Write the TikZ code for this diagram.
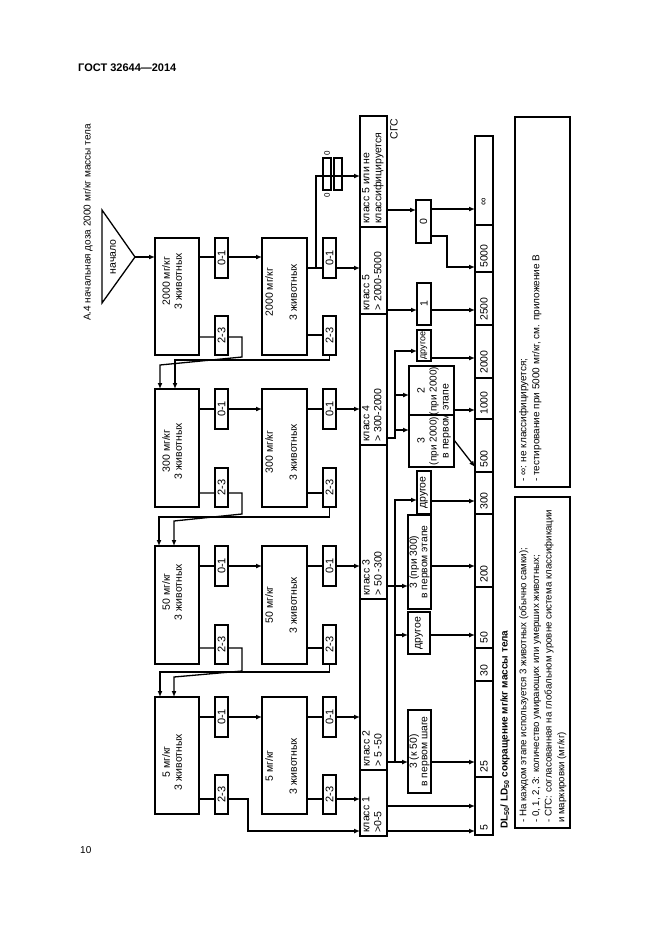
\documentclass[tikz,border=0pt]{standalone}
\usepackage{fontspec}
\setmainfont{Liberation Sans}
\usetikzlibrary{arrows.meta}
\pgfdeclarelayer{bg}
\pgfsetlayers{bg,main}
\newcommand\mybox[7][]{%
  \node[box, minimum width={(#5)-(#3)}, minimum height={(#6)-(#4)}] (#2) at ({((#3)+(#5))/2},{((#4)+(#6))/2}) {};
  \node[rot,#1] (#2-t) at (#2.center) {#7};}
\begin{document}
\begin{tikzpicture}[x=1pt,y=-1pt,
  box/.style={draw,line width=1.3pt,fill=white,inner sep=0pt,outer sep=0pt},
  ln/.style={line width=1.3pt},
  arr/.style={line width=1.3pt,-{Latex[length=6pt,width=5pt]}},
  rot/.style={rotate=90,inner sep=0pt,align=center,font=\fontsize{10.5}{12}\selectfont},
  f9/.style={font=\fontsize{9}{10}\selectfont},
  f11/.style={font=\fontsize{11}{12}\selectfont},
  two/.style={font=\fontsize{10.3}{10.5}\selectfont},
  lab/.style={rot,anchor=north west,align=left,font=\fontsize{10.5}{12}\selectfont},
  res/.style={rot,anchor=west,font=\fontsize{10.5}{12}\selectfont},
]
\useasboundingbox (0,0) rectangle (661,935);

% header, page number, title
\node[anchor=west,inner sep=0,font=\bfseries\fontsize{11}{13}\selectfont] (hdr) at (78,68) {ГОСТ 32644—2014};
\node[anchor=west,inner sep=0,font=\fontsize{10}{12}\selectfont] (pgno) at (80,850) {10};
\node[rot,anchor=west,font=\fontsize{10}{12}\selectfont] (title) at (88,321) {А.4 начальная доза 2000 мг/кг массы тела};

% start triangle
\draw[line width=1.3pt] (102,210) -- (135,257) -- (102,303) -- cycle;
\coordinate (apex) at (135,257);
\node[rot] (start) at (113,257) {начало};

% ---- row 1
\mybox{b11}{155}{238}{199}{355}{}
\mybox[f11]{s11}{215}{238}{228}{278}{0-1}
\mybox[f11]{s12}{215}{316}{228}{355}{2-3}
\mybox{b12}{262}{238}{307}{355}{}
\mybox[f11]{s13}{323}{238}{336}{278}{0-1}
\mybox[f11]{s14}{323}{316}{336}{355}{2-3}
\node[rot] (b11x) at (172,281) {2000 мг/кг\\3 животных};
\node[rot] (b12x) at (281,292) {2000 мг/кг\\[12pt]3 животных};
% ---- row 2
\mybox{b21}{155}{389}{199}{507}{}
\mybox[f11]{s21}{215}{389}{228}{429}{0-1}
\mybox[f11]{s22}{215}{468}{228}{507}{2-3}
\mybox{b22}{262}{389}{307}{507}{}
\mybox[f11]{s23}{323}{389}{336}{429}{0-1}
\mybox[f11]{s24}{323}{468}{336}{507}{2-3}
\node[rot] (b21x) at (172,451) {300 мг/кг\\3 животных};
\node[rot] (b22x) at (281,452) {300 мг/кг\\[12pt]3 животных};
% ---- row 3
\mybox{b31}{155}{546}{199}{664}{}
\mybox[f11]{s31}{215}{546}{228}{586}{0-1}
\mybox[f11]{s32}{215}{625}{228}{664}{2-3}
\mybox{b32}{262}{546}{307}{664}{}
\mybox[f11]{s33}{323}{546}{336}{586}{0-1}
\mybox[f11]{s34}{323}{625}{336}{664}{2-3}
\node[rot] (b31x) at (172,592) {50 мг/кг\\3 животных};
\node[rot] (b32x) at (281,605) {50 мг/кг\\[12pt]3 животных};
% ---- row 4
\mybox{b41}{155}{697}{199}{814}{}
\mybox[f11]{s41}{215}{697}{228}{737}{0-1}
\mybox[f11]{s42}{215}{775}{228}{814}{2-3}
\mybox{b42}{262}{697}{307}{814}{}
\mybox[f11]{s43}{323}{697}{336}{737}{0-1}
\mybox[f11]{s44}{323}{775}{336}{814}{2-3}
\node[rot] (b41x) at (172,762) {5 мг/кг\\3 животных};
\node[rot] (b42x) at (281,766) {5 мг/кг\\[12pt]3 животных};

% two "0" boxes on branch
\node[draw,line width=1.3pt,inner sep=0,minimum width=8,minimum height=32] (z01) at (327,174) {};
\node[draw,line width=1.3pt,inner sep=0,minimum width=8,minimum height=32] (z02) at (338,174) {};
\node[rot,font=\fontsize{8}{9}\selectfont] (z01a) at (327,153) {0};
\node[rot,font=\fontsize{8}{9}\selectfont] (z01b) at (327,195) {0};

% ---- class column
\mybox{c6}{360}{116}{387}{227}{}
\mybox{c5}{360}{227}{387}{314}{}
\mybox{c4}{360}{314}{387}{445}{}
\mybox{c3}{360}{445}{387}{599}{}
\mybox{c2}{360}{599}{387}{770}{}
\mybox{c1}{360}{770}{387}{836}{}
\draw[line width=1.8pt] (c6.north west) rectangle (c1.south east);
\node[lab] (c6l) at (362,224) {класс 5 или не\\классифицируется};
\node[lab] (c5l) at (362,311) {класс 5\\> 2000-5000};
\node[lab] (c4l) at (362,442) {класс 4\\> 300-2000};
\node[lab] (c3l) at (362,596) {класс 3\\> 50 -300};
\node[lab] (c2l) at (362,767) {класс 2\\> 5 -50};
\node[lab] (c1l) at (362,833) {класс 1\\>0-5};
\node[rot] (sgs) at (394,129) {СГС};

% ---- results column
\mybox{rinf}{475}{136}{493}{225}{}
\mybox{r5000}{475}{225}{493}{272}{}
\mybox{r2500}{475}{272}{493}{325}{}
\mybox{r2000}{475}{325}{493}{378}{}
\mybox{r1000}{475}{378}{493}{419}{}
\mybox{r500}{475}{419}{493}{472}{}
\mybox{r300}{475}{472}{493}{514}{}
\mybox{r200}{475}{514}{493}{587}{}
\mybox{r50}{475}{587}{493}{648}{}
\mybox{r30}{475}{648}{493}{681}{}
\mybox{r25}{475}{681}{493}{777}{}
\mybox{r5}{475}{777}{493}{835}{}
\draw[line width=1.8pt] (rinf.north west) rectangle (r5.south east);
\node[rot] (rinfl) at (484,202) {∞};
\node[res] (r5000l) at (484,268) {5000};
\node[res] (r2500l) at (484,321) {2500};
\node[res] (r2000l) at (484,374) {2000};
\node[res] (r1000l) at (484,415) {1000};
\node[res] (r500l) at (484,468) {500};
\node[res] (r300l) at (484,510) {300};
\node[res] (r200l) at (484,583) {200};
\node[res] (r50l) at (484,644) {50};
\node[res] (r30l) at (484,677) {30};
\node[res] (r25l) at (484,773) {25};
\node[res] (r5l) at (484,831) {5};

% ---- middle boxes
\mybox{z0}{416}{200}{431}{243}{0}
\mybox{one}{417}{283}{431}{325}{1}
\mybox[f9]{oth4}{417}{330}{431}{361}{другое}
\mybox{bx2}{409}{366}{454}{415}{}
\mybox{bx3}{409}{415}{454}{467}{}
\node[rot] (bx2a) at (421,391) {2};
\node[rot,font=\fontsize{10}{12}\selectfont] (bx2b) at (434,391) {(при 2000)};
\node[rot] (bx3a) at (421,441) {3};
\node[rot,font=\fontsize{10}{12}\selectfont] (bx3b) at (434,441) {(при 2000)};
\node[rot] (bxv) at (447,421) {в первом этапе};
\mybox{oth3}{417}{471}{431}{514}{другое}
\mybox[two]{b300}{408}{515}{431}{609}{3 (при 300)\\в первом этапе}
\mybox{oth2}{408}{612}{430}{654}{другое}
\mybox[two]{b50}{408}{710}{431}{793}{3 (к 50)\\в первом шаге}

% ---- legend
\mybox{leg1}{515}{117}{570}{487}{}
\node[rot,anchor=north west,align=left,font=\fontsize{10}{13}\selectfont] (leg1x) at (519,482) {- ∞: не классифицируется;\\- тестирование при 5000 мг/кг, см. приложение В};
\mybox{leg2}{515}{497}{570}{828}{}
\node[rot,anchor=north west,align=left,font=\fontsize{9.7}{12.7}\selectfont] (leg2x) at (519,823) {- На каждом этапе используется 3 животных (обычно самки);\\- 0, 1, 2, 3: количество умирающих или умерших животных;\\- СГС: согласованная на глобальном уровне система классификации\\и маркировки (мг/кг)};
\node[rot,anchor=west,font=\bfseries\fontsize{10}{12}\selectfont] (dl) at (505,829) {DL\textsubscript{50}/ LD\textsubscript{50} сокращение мг/кг массы тела};

% ---- connectors
\begin{pgfonlayer}{bg}
\draw[arr] (apex) -- (b11.west |- apex);
\draw[arr] (b11.east |- 0,257) -- (b12.west |- 0,257);
\draw[arr] (b12.east |- 0,268) -- (c5.west |- 0,268);
\coordinate (j1) at (316,268);
\draw[arr] (j1) -- (316,176) -- (c6.west |- 0,176);
\draw[arr] (b11.east |- 0,337) -- (242,337) -- (242,357) -- (160,365) -- (b21.north -| 160,0);
\draw[arr] (b12.east |- 0,335) -- (329.5,335) -- (329.5,360) -- (175,360) -- (b21.north -| 175,0);

\draw[arr] (b21.east |- 0,409) -- (b22.west |- 0,409);
\draw[arr] (b22.east |- 0,409) -- (c4.west |- 0,409);
\draw[arr] (b21.east |- 0,493) -- (242,493) -- (242,514) -- (174,521) -- (b31.north -| 174,0);
\draw[arr] (b22.east |- 0,493) -- (329.5,493) -- (329.5,517) -- (159,517) -- (b31.north -| 159,0);

\draw[arr] (b31.east |- 0,566) -- (b32.west |- 0,566);
\draw[arr] (b32.east |- 0,566) -- (c3.west |- 0,566);
\draw[arr] (b31.east |- 0,648) -- (242,648) -- (242,671) -- (174,677) -- (b41.north -| 174,0);
\draw[arr] (b32.east |- 0,648) -- (329.5,648) -- (329.5,672) -- (160,672) -- (b41.north -| 160,0);

\draw[arr] (b41.east |- 0,717) -- (b42.west |- 0,717);
\draw[arr] (b42.east |- 0,717) -- (c2.west |- 0,717);
\draw[arr] (b42.east |- 0,799) -- (c1.west |- 0,799);
\draw[arr] (b41.east |- 0,799) -- (248,799) -- (248,831) -- (c1.west |- 0,831);

\draw[arr] (c6.east |- 0,210) -- (z0.west |- 0,210);
\draw[arr] (z0.east |- 0,209) -- (rinf.west |- 0,209);
\draw[arr] (z0.east |- 0,236) -- (447,236) -- (447,267) -- (r5000.west |- 0,267);
\draw[arr] (c5.east |- 0,310) -- (one.west |- 0,310);
\draw[arr] (one.east |- 0,310) -- (r2500.west |- 0,310);

\draw[arr] (c4.east |- 0,438) -- (395,438) -- (395,351) -- (oth4.west |- 0,351);
\coordinate (j4a) at (395,395);
\coordinate (j4b) at (395,430);
\draw[arr] (j4a) -- (bx2.west |- j4a);
\draw[arr] (j4b) -- (bx3.west |- j4b);
\draw[arr] (oth4.east |- 0,358) -- (r2000.west |- 0,358);
\draw[arr] (bx2.east |- 0,410) -- (r1000.west |- 0,410);
\draw[arr] (bx3.east |- 0,440) -- (r500.west |- 0,467);

\draw[arr] (c3.east |- 0,586) -- (395,586) -- (395,500) -- (oth3.west |- 0,500);
\coordinate (j3) at (395,586);
\draw[arr] (j3) -- (b300.west |- j3);
\draw[arr] (oth3.east |- 0,501) -- (r300.west |- 0,501);
\draw[arr] (b300.east |- 0,566) -- (r200.west |- 0,566);

\draw[ln] (c2.east |- 0,762) -- (395,762) -- (395,586);
\coordinate (j2a) at (395,635);
\coordinate (j2b) at (395,762);
\draw[arr] (j2a) -- (oth2.west |- j2a);
\draw[arr] (j2b) -- (b50.west |- j2b);
\draw[arr] (oth2.east |- 0,635) -- (r50.west |- 0,635);
\draw[arr] (b50.east |- 0,762) -- (r25.west |- 0,762);

\draw[arr] (c1.east |- 0,806) -- (r5.west |- 0,806);
\draw[arr] (c1.east |- 0,831) -- (r5.west |- 0,831);
\end{pgfonlayer}
\end{tikzpicture}
\end{document}
